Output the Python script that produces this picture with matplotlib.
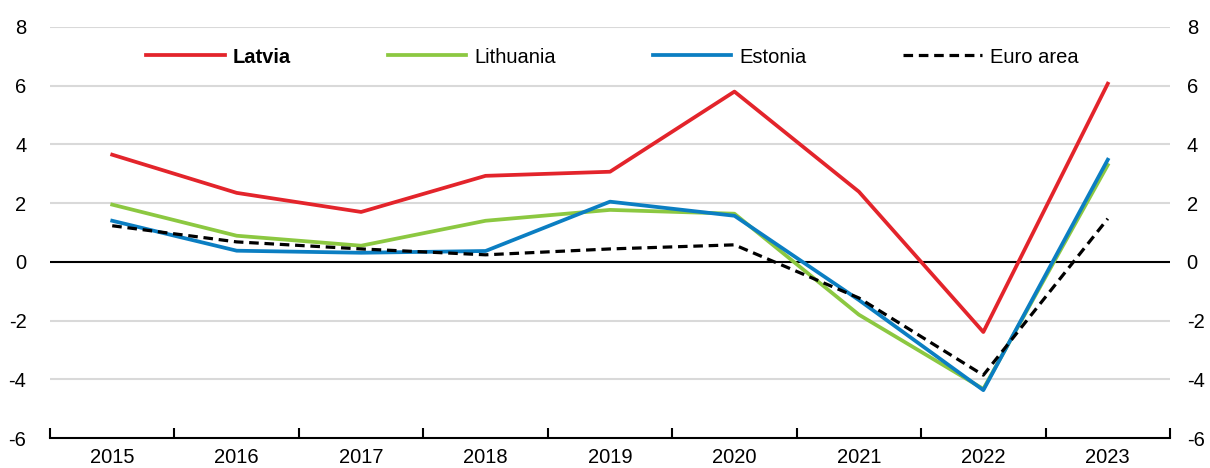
import matplotlib.pyplot as plt
import numpy as np

plt.rcParams['font.family'] = ['Liberation Sans', 'DejaVu Sans']

years = ["2015", "2016", "2017", "2018", "2019", "2020", "2021", "2022", "2023"]
latvia = [3.65, 2.35, 1.7, 2.93, 3.07, 5.8, 2.39, -2.39, 6.07]
lithuania = [1.95, 0.89, 0.55, 1.4, 1.77, 1.64, -1.8, -4.33, 3.3]
estonia = [1.4, 0.38, 0.31, 0.37, 2.05, 1.57, -1.3, -4.37, 3.48]
euro_area = [1.23, 0.68, 0.44, 0.24, 0.44, 0.58, -1.23, -3.86, 1.47]

x = np.arange(len(years))

fig = plt.figure(figsize=(12.1, 4.68), dpi=100)
ax = fig.add_axes([50 / 1210, 1 - 438 / 468, 1120 / 1210, 411 / 468])

# --- gridlines and zero line ---
for yv in [-4, -2, 2, 4, 6, 8]:
    ax.axhline(yv, color="#d9d9d9", lw=1.5, zorder=0)
ax.axhline(0, color="black", lw=1.5, zorder=1)

ax.plot(x, latvia, color="#e3242b", lw=2.7, label="Latvia", zorder=3)
ax.plot(x, lithuania, color="#8cc841", lw=2.7, label="Lithuania", zorder=3)
ax.plot(x, estonia, color="#0b7ec2", lw=2.7, label="Estonia", zorder=3)
ax.plot(x, euro_area, color="black", lw=2.3, ls=(0, (3, 1.8)), label="Euro area", zorder=4)

ax.set_xlim(-0.5, len(years) - 0.5)
ax.set_ylim(-6, 8)

# --- STYLE ---
for s in ["top", "left", "right"]:
    ax.spines[s].set_visible(False)
ax.spines["bottom"].set_linewidth(1.5)

ax.set_xticks(np.arange(-0.5, len(years), 1.0))
ax.set_xticklabels([])
ax.tick_params(axis="x", which="major", direction="in", length=7, width=1.5)
ax.set_xticks(x, minor=True)
ax.set_xticklabels(years, minor=True, fontsize=14.5)
ax.tick_params(axis="x", which="minor", length=0, pad=7)

yt = np.arange(-6, 9, 2)
ax.set_yticks(yt)
ax.set_yticklabels([str(v) for v in yt], fontsize=14.5)
ax.tick_params(axis="y", length=0, pad=17)

# right-hand axis labels
ax2 = ax.twinx()
ax2.set_ylim(ax.get_ylim())
ax2.set_yticks(yt)
ax2.set_yticklabels([str(v) for v in yt], fontsize=14.5)
ax2.tick_params(axis="y", length=0, pad=12)
for s in ["top", "left", "right", "bottom"]:
    ax2.spines[s].set_visible(False)

leg = ax.legend(loc="center", bbox_to_anchor=(0.502, 0.927), ncol=4, frameon=False,
                fontsize=14.5, handlelength=3.9, handletextpad=0.4, columnspacing=4.8)
leg.get_texts()[0].set_fontweight("bold")

fig.savefig("out.png", dpi=100)
